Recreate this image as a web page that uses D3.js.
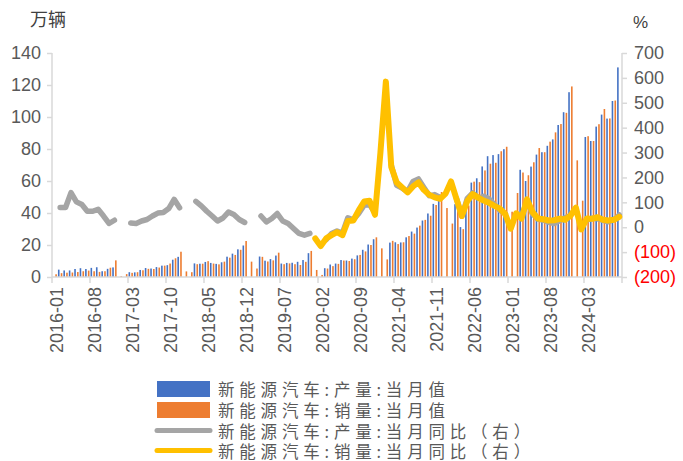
<!DOCTYPE html>
<html><head><meta charset="utf-8">
<script src="https://cdn.jsdelivr.net/npm/d3@7/dist/d3.min.js"></script>
<style>
body{margin:0;background:#fff;}
svg{display:block;}
</style></head>
<body><svg id="c" width="683" height="461"></svg>
<script>
// ---------- data (万辆 / %) ----------
const years = [2016,2017,2018,2019,2020,2021,2022,2023,2024];
const monthNames = ["01","02","03","04","05","06","07","08","09","10","11","12"];
// production, monthly value (Jan/Feb production not reported from 2017 on)
const prod2016 = [null,4.6,4.1,4.1,5.0,5.5,5.0,5.7,6.1,3.6,5.1,6.0];
const prod2017 = [null,null,3.0,2.9,4.4,5.6,5.3,6.2,7.1,7.4,10.8,12.6];
const prod2018 = [null,null,8.5,8.3,9.4,8.8,8.2,9.2,12.7,14.6,17.3,19.7];
const prod2019 = [null,null,12.8,10.2,11.2,13.4,8.4,8.8,8.9,9.5,10.6,14.9];
const prod2020 = [null,null,5.5,7.8,8.4,10.6,10.3,11.5,13.5,17.0,20.3,23.6];
const prod2021 = [null,null,21.5,21.7,21.6,24.8,28.4,30.9,35.3,39.7,45.7,51.6];
const prod2022 = [null,null,45.5,31.2,46.6,59.0,61.7,69.1,75.5,76.2,76.8,79.9];
const prod2023 = [null,null,67.0,60.0,69.0,76.5,78.0,82.0,86.0,95.0,103.0,115.5];
const prod2024 = [null,null,87.5,85.0,94.0,101.5,99.0,110.0,131.0];
// sales, monthly value
const sales2016 = [1.7,2.4,2.7,2.8,3.1,3.6,4.0,3.6,3.2,3.6,5.8,10.4];
const sales2017 = [0.6,1.8,2.6,3.0,4.2,5.1,5.0,5.9,7.1,8.4,11.7,15.8];
const sales2018 = [3.5,3.0,8.0,8.3,9.9,8.4,7.9,9.6,12.1,13.8,17.0,22.5];
const sales2019 = [9.6,5.3,12.6,9.7,10.4,15.2,8.0,8.5,8.0,7.5,9.5,16.3];
const sales2020 = [4.4,1.3,5.3,6.8,8.2,10.3,10.0,11.1,13.8,16.0,20.0,24.8];
const sales2021 = [17.9,11.0,22.6,20.6,21.7,25.6,27.1,32.1,35.7,38.3,45.0,53.1];
const sales2022 = [43.1,33.4,45.0,29.9,44.7,59.6,59.3,66.6,70.8,71.4,78.6,81.4];
const sales2023 = [40.8,52.5,65.3,63.6,71.7,80.6,78.0,84.6,90.4,95.6,102.6,119.1];
const sales2024 = [72.9,47.7,88.0,85.0,95.5,105.0,99.1,110.3,null];
// production YoY %
const prodYoY2016 = [null,79,79,139,102,91,64,64,72,45,15,28];
const prodYoY2017 = [null,null,17,15,25,31,45,57,59,75,112,78];
const prodYoY2018 = [null,null,104,86,64,45,25,37,61,51,31,19];
const prodYoY2019 = [null,null,45,21,35,55,25,15,-5,-25,-32,-25];
const prodYoY2020 = [null,null,-50,-25,-15,-24,38,30,55,88,90,58];
const prodYoY2021 = [null,null,250,168,157,143,184,194,160,127,131,120];
const prodYoY2022 = [null,null,116,44,116,138,117,124,114,92,68,55];
const prodYoY2023 = [null,null,45,105,53,33,28,20,15,26,38,47];
const prodYoY2024 = [null,null,28,36,34,28,22,30,49];
// sales YoY % (shown from 2020)
const salesYoY2016 = [null,null,null,null,null,null,null,null,null,null,null,null];
const salesYoY2017 = [null,null,null,null,null,null,null,null,null,null,null,null];
const salesYoY2018 = [null,null,null,null,null,null,null,null,null,null,null,null];
const salesYoY2019 = [null,null,null,null,null,null,null,null,null,null,null,null];
const salesYoY2020 = [-45,-76,-45,-32,-20,-32,25,27,68,103,106,50];
const salesYoY2021 = [300,585,242,180,160,140,164,180,150,130,120,114];
const salesYoY2022 = [135,184,114,45,105,133,119,107,98,86,75,53];
const salesYoY2023 = [-6,56,35,112,61,35,32,27,28,34,30,46];
const salesYoY2024 = [79,-9,35,34,40,30,27,30,42];
// axis ticks
const leftTicks = [0,20,40,60,80,100,120,140];
const rightTicks = [-200,-100,0,100,200,300,400,500,600,700];
const seriesNames = ["新能源汽车:产量:当月值","新能源汽车:销量:当月值","新能源汽车:产量:当月同比（右）","新能源汽车:销量:当月同比（右）"];
const colors = ["#4472C4","#ED7D31","#A5A5A5","#FFC000"];

// ---------- assemble ----------
const production = [].concat(prod2016,prod2017,prod2018,prod2019,prod2020,prod2021,prod2022,prod2023,prod2024);
const sales = [].concat(sales2016,sales2017,sales2018,sales2019,sales2020,sales2021,sales2022,sales2023,sales2024);
const prodYoY = [].concat(prodYoY2016,prodYoY2017,prodYoY2018,prodYoY2019,prodYoY2020,prodYoY2021,prodYoY2022,prodYoY2023,prodYoY2024);
const salesYoY = [].concat(salesYoY2016,salesYoY2017,salesYoY2018,salesYoY2019,salesYoY2020,salesYoY2021,salesYoY2022,salesYoY2023,salesYoY2024);
const categories = [];
years.forEach(y => monthNames.forEach(m => categories.push(y + "-" + m)));
categories.length = production.length;
const rows = categories.map((c,i) => ({c, p: production[i], s: sales[i], py: prodYoY[i], sy: salesYoY[i]}));

// ---------- layout ----------
const L = 52, R = 622, T = 53, B = 277;
const svg = d3.select("#c");
const axisColor = "#d9d9d9", textColor = "#595959";
const numFont = "'Liberation Sans', Arial, sans-serif";
const cjkFont = "'Noto Sans CJK SC', sans-serif";

const x = d3.scaleBand().domain(categories).range([L, R]).padding(0);
const x1 = d3.scaleBand().domain(["p","s"]).range([0, x.bandwidth()]).paddingInner(0.43).paddingOuter(0.185);
const yL = d3.scaleLinear().domain([0,140]).range([B, T]);
const yR = d3.scaleLinear().domain([-200,700]).range([B, T]);
const cx = c => x(c) + x.bandwidth()/2;

// bars
const gBars = svg.append("g");
[["p",0],["s",1]].forEach(([k,ci]) => {
  gBars.selectAll("rect." + k).data(rows.filter(d => d[k] != null)).enter().append("rect")
    .attr("class", k)
    .attr("x", d => x(d.c) + x1(k))
    .attr("width", x1.bandwidth())
    .attr("y", d => yL(d[k]))
    .attr("height", d => yL(0) - yL(d[k]))
    .attr("fill", colors[ci]);
});

// axes lines
svg.append("line").attr("x1", L).attr("x2", L).attr("y1", T).attr("y2", B).attr("stroke", axisColor).attr("stroke-width", 1.5);
svg.append("line").attr("x1", R).attr("x2", R).attr("y1", T).attr("y2", B).attr("stroke", axisColor).attr("stroke-width", 1.5);
svg.append("line").attr("x1", L).attr("x2", R).attr("y1", B).attr("y2", B).attr("stroke", axisColor).attr("stroke-width", 1.5);

// left axis
const ax1 = svg.append("g").attr("transform", `translate(${L},0)`)
  .call(d3.axisLeft(yL).tickValues(leftTicks).tickSize(5).tickSizeOuter(0).tickPadding(6));
ax1.select(".domain").remove();
ax1.selectAll(".tick line").attr("stroke", axisColor).attr("stroke-width", 1.5);
ax1.selectAll(".tick text").attr("fill", textColor).style("font-size", "18px").style("font-family", numFont);

// right axis
const ax2 = svg.append("g").attr("transform", `translate(${R},0)`)
  .call(d3.axisRight(yR).tickValues(rightTicks).tickSize(5).tickSizeOuter(0).tickPadding(7)
    .tickFormat(v => v < 0 ? `(${-v})` : String(v)));
ax2.select(".domain").remove();
ax2.selectAll(".tick line").attr("stroke", axisColor).attr("stroke-width", 1.5);
ax2.selectAll(".tick text").attr("fill", v => v < 0 ? "#FF0000" : textColor).style("font-size", "18px").style("font-family", numFont);

// x axis ticks and labels
const tickIdx = d3.range(0, categories.length + 1, 7);
tickIdx.forEach(i => {
  const xp = i < categories.length ? x(categories[i]) : R;
  svg.append("line").attr("x1", xp).attr("x2", xp).attr("y1", B).attr("y2", B + 6).attr("stroke", axisColor).attr("stroke-width", 1.5);
});
svg.append("g").selectAll("text").data(tickIdx.filter(i => i < categories.length)).enter().append("text")
  .attr("transform", i => `translate(${cx(categories[i]) + 2.5},${B + 10}) rotate(-90)`)
  .attr("text-anchor", "end").attr("dominant-baseline", "central")
  .attr("fill", textColor).style("font-size", "18px").style("font-family", numFont)
  .text(i => categories[i]);

// lines
const lineGen = key => d3.line().defined(d => d[key] != null).x(d => cx(d.c)).y(d => yR(d[key]));
svg.append("path").datum(rows).attr("d", lineGen("py")).attr("fill", "none").attr("stroke", colors[2])
  .attr("stroke-width", 5.5).attr("stroke-linejoin", "round").attr("stroke-linecap", "round");
svg.append("path").datum(rows).attr("d", lineGen("sy")).attr("fill", "none").attr("stroke", colors[3])
  .attr("stroke-width", 6).attr("stroke-linejoin", "round").attr("stroke-linecap", "round");

// unit labels
svg.append("text").attr("x", 30).attr("y", 26).attr("fill", "#404040").style("font-size", "18px").style("font-family", cjkFont).text("万辆");
svg.append("text").attr("x", 633).attr("y", 28).attr("fill", "#404040").style("font-size", "17px").style("font-family", numFont).text("%");

// legend
const lg = svg.append("g");
const legY = [389, 410, 430.5, 450.5];
seriesNames.forEach((name, i) => {
  if (i < 2) {
    lg.append("rect").attr("x", 157).attr("y", legY[i] - 8).attr("width", 53).attr("height", 16).attr("fill", colors[i]);
  } else {
    lg.append("line").attr("x1", 157).attr("x2", 210).attr("y1", legY[i]).attr("y2", legY[i])
      .attr("stroke", colors[i]).attr("stroke-width", 5).attr("stroke-linecap", "round");
  }
  lg.append("text").attr("x", 218).attr("y", legY[i]).attr("dominant-baseline", "central")
    .attr("fill", textColor).style("font-size", "16.5px").style("font-family", cjkFont).style("letter-spacing", "4.8px")
    .text(name);
});
</script></body></html>
